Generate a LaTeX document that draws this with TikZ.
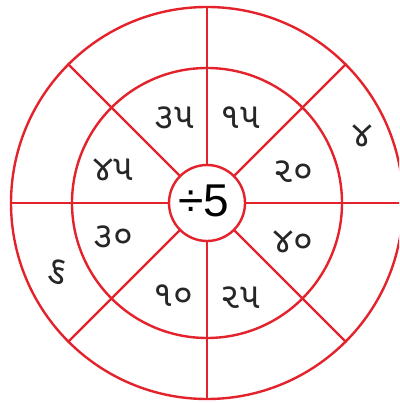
\documentclass[tikz,border=0pt]{standalone}
\usepackage{fontspec}
\setmainfont{Liberation Sans}
\newfontfamily\guj[Script=Gujarati]{Noto Sans Gujarati UI}
\definecolor{ringred}{RGB}{228,34,44}
\begin{document}
\begin{tikzpicture}[x=1pt,y=-1pt,
  ring/.style={circle,draw=ringred,line width=2.4pt,inner sep=0pt},
  spoke/.style={draw=ringred,line width=2.4pt},
  num/.style={font=\guj\fontsize{36}{36}\selectfont,text=black!85,inner sep=0pt}]
\useasboundingbox (0,0) rectangle (399,403);
\clip (0,0) rectangle (399,403);
\fill[white] (0,0) rectangle (399,403);
\node[ring,minimum size=392pt] (outer) at (207,203) {};
\node[ring,minimum size=270pt] (middle) at (207,203) {};
\node[ring,minimum size=76pt] (c) at (207,203) {};
\foreach \a in {0,45,...,315}{
  \draw[spoke] (c.\a) -- (outer.\a);
}
\node[font=\fontsize{46}{46}\selectfont,inner sep=0pt] (div) at (204,201) {÷5};
\node[num] (n35) at (174,118) {૩૫};
\node[num] (n15) at (240,118) {૧૫};
\node[num] (n45) at (113,170) {૪૫};
\node[num] (n20) at (293,172) {૨૦};
\node[num] (n30) at (113,237) {૩૦};
\node[num] (n40) at (293,242) {૪૦};
\node[num] (n10) at (173,296) {૧૦};
\node[num] (n25) at (240,298) {૨૫};
\node[num] (n4) at (362,136) {૪};
\node[num,rotate=-15] (n6) at (58,272) {૬};
\end{tikzpicture}
\end{document}
